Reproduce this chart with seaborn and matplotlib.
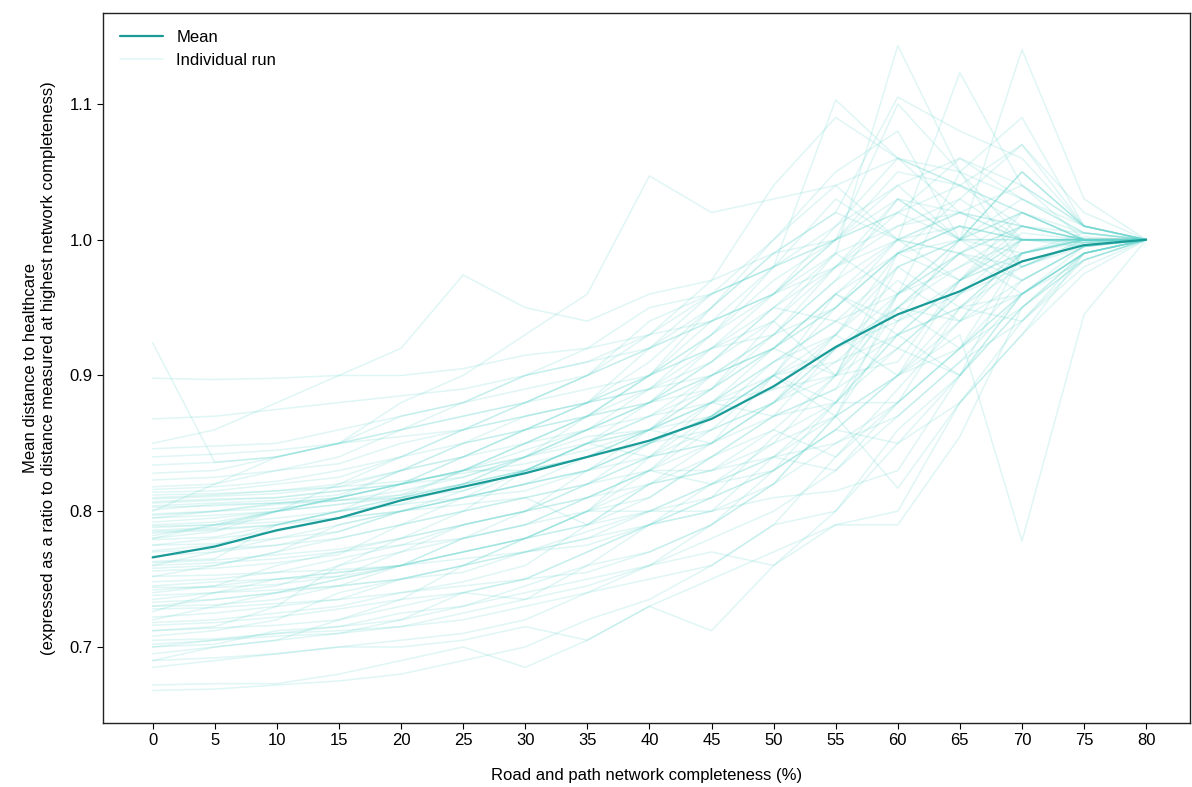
import numpy as np
import pandas as pd
import seaborn as sns
import matplotlib.pyplot as plt
from matplotlib.lines import Line2D

completeness = [0, 5, 10, 15, 20, 25, 30, 35, 40, 45, 50, 55, 60, 65, 70, 75, 80]

mean_ratio = [0.766, 0.774, 0.786, 0.795, 0.808, 0.818, 0.828, 0.840, 0.852,
              0.868, 0.892, 0.921, 0.945, 0.962, 0.984, 0.996, 1.000]

# individual runs (one list per run)
run_01 = [0.668, 0.669, 0.672, 0.675, 0.680, 0.690, 0.700, 0.720, 0.735, 0.760, 0.790, 0.840, 0.880, 0.920, 0.960, 0.990, 1.0]
run_02 = [0.672, 0.673, 0.673, 0.680, 0.690, 0.700, 0.685, 0.705, 0.730, 0.712, 0.760, 0.800, 0.860, 0.900, 0.950, 0.985, 1.0]
run_03 = [0.685, 0.690, 0.695, 0.700, 0.700, 0.705, 0.715, 0.705, 0.730, 0.750, 0.770, 0.790, 0.800, 0.880, 0.940, 0.980, 1.0]
run_04 = [0.690, 0.700, 0.705, 0.720, 0.730, 0.740, 0.735, 0.760, 0.790, 0.800, 0.840, 0.830, 0.880, 0.920, 0.960, 0.990, 1.0]
run_05 = [0.700, 0.702, 0.712, 0.715, 0.725, 0.730, 0.745, 0.760, 0.770, 0.790, 0.820, 0.870, 0.900, 0.950, 0.980, 0.995, 1.0]
run_06 = [0.702, 0.705, 0.708, 0.710, 0.720, 0.740, 0.750, 0.770, 0.790, 0.810, 0.855, 0.880, 0.920, 0.960, 0.980, 0.998, 1.0]
run_07 = [0.708, 0.712, 0.720, 0.740, 0.750, 0.755, 0.770, 0.780, 0.800, 0.820, 0.830, 0.860, 0.900, 0.940, 0.960, 0.990, 1.0]
run_08 = [0.712, 0.714, 0.716, 0.720, 0.735, 0.760, 0.780, 0.790, 0.810, 0.840, 0.870, 0.880, 0.930, 0.950, 0.990, 1.000, 1.0]
run_09 = [0.718, 0.720, 0.725, 0.730, 0.740, 0.748, 0.760, 0.790, 0.820, 0.830, 0.850, 0.900, 0.910, 0.970, 0.990, 1.005, 1.0]
run_10 = [0.722, 0.725, 0.730, 0.735, 0.750, 0.760, 0.770, 0.775, 0.790, 0.820, 0.840, 0.870, 0.940, 0.960, 1.000, 0.995, 1.0]
run_11 = [0.726, 0.740, 0.750, 0.752, 0.760, 0.780, 0.790, 0.800, 0.830, 0.870, 0.900, 0.920, 0.950, 0.980, 1.010, 1.000, 1.0]
run_12 = [0.730, 0.731, 0.735, 0.745, 0.760, 0.770, 0.780, 0.800, 0.840, 0.850, 0.870, 0.890, 0.960, 0.990, 0.970, 0.995, 1.0]
run_13 = [0.735, 0.740, 0.742, 0.745, 0.750, 0.760, 0.770, 0.785, 0.800, 0.810, 0.830, 0.860, 0.900, 0.920, 0.950, 0.990, 1.0]
run_14 = [0.740, 0.745, 0.760, 0.770, 0.780, 0.790, 0.800, 0.810, 0.830, 0.860, 0.880, 0.910, 0.950, 0.940, 0.990, 1.000, 1.0]
run_15 = [0.744, 0.744, 0.746, 0.752, 0.770, 0.780, 0.800, 0.830, 0.850, 0.870, 0.900, 0.930, 0.980, 1.000, 1.020, 1.000, 1.0]
run_16 = [0.748, 0.750, 0.755, 0.765, 0.775, 0.790, 0.800, 0.820, 0.840, 0.880, 0.870, 0.920, 0.960, 0.990, 0.980, 0.998, 1.0]
run_17 = [0.752, 0.760, 0.770, 0.790, 0.800, 0.810, 0.820, 0.830, 0.840, 0.850, 0.880, 0.920, 0.940, 0.970, 0.990, 1.002, 1.0]
run_18 = [0.756, 0.758, 0.762, 0.768, 0.790, 0.800, 0.810, 0.820, 0.850, 0.860, 0.900, 0.950, 0.990, 1.010, 1.000, 1.000, 1.0]
run_19 = [0.760, 0.770, 0.780, 0.785, 0.800, 0.810, 0.815, 0.830, 0.860, 0.880, 0.910, 0.940, 0.960, 0.980, 1.000, 0.998, 1.0]
run_20 = [0.763, 0.765, 0.790, 0.800, 0.805, 0.820, 0.830, 0.840, 0.850, 0.870, 0.900, 0.910, 0.930, 0.970, 1.000, 1.000, 1.0]
run_21 = [0.767, 0.770, 0.775, 0.780, 0.790, 0.800, 0.830, 0.850, 0.870, 0.880, 0.900, 0.880, 0.950, 0.990, 1.010, 1.000, 1.0]
run_22 = [0.771, 0.775, 0.790, 0.800, 0.810, 0.820, 0.840, 0.855, 0.860, 0.890, 0.930, 0.950, 0.990, 0.970, 1.005, 1.000, 1.0]
run_23 = [0.775, 0.780, 0.785, 0.795, 0.810, 0.830, 0.850, 0.860, 0.880, 0.900, 0.920, 0.960, 0.990, 1.010, 1.000, 1.000, 1.0]
run_24 = [0.779, 0.781, 0.790, 0.800, 0.820, 0.830, 0.840, 0.850, 0.860, 0.870, 0.910, 0.940, 0.920, 0.960, 0.990, 0.998, 1.0]
run_25 = [0.782, 0.790, 0.800, 0.805, 0.810, 0.820, 0.830, 0.840, 0.860, 0.900, 0.920, 0.960, 1.000, 1.020, 1.010, 1.000, 1.0]
run_26 = [0.786, 0.788, 0.800, 0.810, 0.830, 0.850, 0.860, 0.870, 0.890, 0.910, 0.950, 0.940, 0.980, 1.000, 0.990, 1.000, 1.0]
run_27 = [0.789, 0.790, 0.795, 0.800, 0.810, 0.820, 0.840, 0.860, 0.880, 0.900, 0.930, 0.970, 1.000, 0.990, 1.010, 1.000, 1.0]
run_28 = [0.792, 0.795, 0.800, 0.805, 0.812, 0.830, 0.850, 0.870, 0.900, 0.920, 0.950, 0.980, 1.030, 1.000, 1.000, 1.000, 1.0]
run_29 = [0.795, 0.800, 0.806, 0.810, 0.820, 0.840, 0.860, 0.880, 0.900, 0.930, 0.960, 1.010, 1.060, 1.040, 1.020, 1.000, 1.0]
run_30 = [0.798, 0.800, 0.802, 0.808, 0.815, 0.825, 0.840, 0.860, 0.880, 0.910, 0.940, 0.980, 1.020, 1.060, 1.040, 1.010, 1.0]
run_31 = [0.801, 0.805, 0.806, 0.810, 0.820, 0.840, 0.860, 0.880, 0.890, 0.930, 0.970, 1.000, 1.100, 1.050, 1.090, 1.010, 1.0]
run_32 = [0.804, 0.806, 0.808, 0.812, 0.830, 0.840, 0.850, 0.870, 0.900, 0.950, 1.000, 1.040, 1.000, 1.020, 1.000, 1.000, 1.0]
run_33 = [0.807, 0.809, 0.810, 0.815, 0.820, 0.830, 0.840, 0.860, 0.890, 0.920, 0.940, 0.990, 1.143, 1.050, 0.980, 1.000, 1.0]
run_34 = [0.810, 0.812, 0.815, 0.820, 0.830, 0.840, 0.860, 0.880, 0.900, 0.940, 0.980, 1.030, 1.000, 1.123, 1.040, 1.010, 1.0]
run_35 = [0.814, 0.815, 0.820, 0.825, 0.840, 0.850, 0.870, 0.880, 0.920, 0.960, 1.000, 1.050, 1.080, 1.000, 1.140, 1.030, 1.0]
run_36 = [0.818, 0.820, 0.830, 0.840, 0.860, 0.870, 0.880, 0.900, 0.930, 0.970, 1.040, 1.090, 1.060, 1.040, 1.020, 1.000, 1.0]
run_37 = [0.823, 0.825, 0.830, 0.835, 0.850, 0.860, 0.880, 0.900, 0.920, 0.950, 0.990, 1.020, 1.105, 1.080, 1.060, 1.010, 1.0]
run_38 = [0.828, 0.830, 0.840, 0.850, 0.860, 0.880, 0.900, 0.920, 0.930, 0.940, 0.960, 1.000, 1.050, 1.040, 1.070, 1.010, 1.0]
run_39 = [0.834, 0.836, 0.840, 0.850, 0.860, 0.870, 0.880, 0.900, 0.940, 0.960, 0.980, 1.010, 1.040, 1.060, 1.030, 1.005, 1.0]
run_40 = [0.840, 0.842, 0.845, 0.850, 0.855, 0.860, 0.870, 0.880, 0.910, 0.950, 0.990, 1.020, 1.000, 0.990, 1.020, 1.005, 1.0]
run_41 = [0.846, 0.848, 0.850, 0.860, 0.870, 0.880, 0.900, 0.910, 0.930, 0.960, 0.980, 1.000, 1.020, 1.040, 1.010, 1.005, 1.0]
run_42 = [0.868, 0.870, 0.875, 0.880, 0.885, 0.890, 0.900, 0.910, 0.920, 0.940, 0.960, 0.990, 1.010, 1.020, 1.000, 1.000, 1.0]
run_43 = [0.898, 0.897, 0.898, 0.900, 0.900, 0.905, 0.915, 0.920, 0.950, 0.960, 0.980, 1.000, 1.020, 1.000, 1.000, 1.000, 1.0]
run_44 = [0.924, 0.836, 0.840, 0.850, 0.870, 0.880, 0.890, 0.900, 0.920, 0.940, 0.960, 0.980, 1.000, 1.010, 1.000, 1.000, 1.0]
run_45 = [0.720, 0.730, 0.740, 0.750, 0.760, 0.770, 0.780, 0.790, 0.800, 0.820, 0.850, 0.870, 0.900, 0.930, 0.778, 0.945, 1.0]
run_46 = [0.745, 0.748, 0.750, 0.755, 0.760, 0.770, 0.780, 0.800, 0.800, 0.800, 0.820, 0.870, 0.817, 0.880, 0.930, 0.990, 1.0]
run_47 = [0.700, 0.705, 0.710, 0.715, 0.720, 0.730, 0.740, 0.750, 0.760, 0.770, 0.760, 0.790, 0.790, 0.855, 0.950, 0.990, 1.0]
run_48 = [0.850, 0.860, 0.880, 0.900, 0.920, 0.974, 0.950, 0.940, 0.960, 0.970, 0.990, 1.000, 1.030, 1.020, 1.010, 1.000, 1.0]
run_49 = [0.800, 0.820, 0.840, 0.850, 0.880, 0.900, 0.930, 0.960, 1.047, 1.020, 1.030, 1.040, 1.060, 1.050, 1.030, 1.010, 1.0]
run_50 = [0.780, 0.790, 0.800, 0.810, 0.820, 0.830, 0.850, 0.870, 0.900, 0.930, 0.980, 1.103, 1.060, 1.020, 1.040, 1.000, 1.0]
run_51 = [0.730, 0.735, 0.740, 0.750, 0.760, 0.765, 0.770, 0.780, 0.790, 0.800, 0.810, 0.815, 0.830, 0.900, 0.960, 0.990, 1.0]
run_52 = [0.760, 0.762, 0.765, 0.770, 0.775, 0.780, 0.790, 0.810, 0.830, 0.830, 0.840, 0.850, 0.870, 0.910, 0.960, 0.985, 1.0]
run_53 = [0.690, 0.692, 0.695, 0.700, 0.705, 0.710, 0.720, 0.740, 0.760, 0.780, 0.800, 0.830, 0.870, 0.910, 0.940, 0.985, 1.0]
run_54 = [0.705, 0.706, 0.710, 0.712, 0.715, 0.720, 0.730, 0.740, 0.750, 0.760, 0.790, 0.800, 0.850, 0.880, 0.930, 0.975, 1.0]
run_55 = [0.795, 0.797, 0.800, 0.810, 0.820, 0.830, 0.845, 0.860, 0.870, 0.890, 0.920, 0.950, 0.990, 1.030, 1.070, 1.020, 1.0]
run_56 = [0.775, 0.776, 0.780, 0.790, 0.800, 0.815, 0.830, 0.850, 0.880, 0.920, 0.960, 1.000, 1.040, 1.000, 1.050, 1.010, 1.0]
run_57 = [0.712, 0.715, 0.730, 0.760, 0.770, 0.790, 0.800, 0.820, 0.830, 0.850, 0.880, 0.900, 0.950, 0.920, 0.970, 0.995, 1.0]
run_58 = [0.728, 0.729, 0.732, 0.735, 0.740, 0.745, 0.750, 0.755, 0.770, 0.790, 0.830, 0.880, 0.930, 0.900, 0.990, 1.000, 1.0]
run_59 = [0.738, 0.740, 0.745, 0.760, 0.780, 0.800, 0.810, 0.790, 0.820, 0.850, 0.900, 0.870, 0.960, 1.000, 0.970, 0.995, 1.0]
run_60 = [0.758, 0.760, 0.770, 0.780, 0.790, 0.810, 0.820, 0.840, 0.860, 0.850, 0.880, 0.930, 0.900, 0.970, 1.020, 1.000, 1.0]
run_61 = [0.770, 0.772, 0.775, 0.785, 0.800, 0.810, 0.820, 0.830, 0.850, 0.870, 0.890, 0.900, 0.980, 0.950, 0.990, 1.000, 1.0]
run_62 = [0.784, 0.786, 0.790, 0.800, 0.805, 0.810, 0.830, 0.850, 0.840, 0.870, 0.900, 0.960, 0.940, 1.000, 1.030, 1.005, 1.0]
run_63 = [0.790, 0.792, 0.800, 0.810, 0.820, 0.830, 0.830, 0.850, 0.860, 0.880, 0.890, 0.930, 0.970, 0.940, 1.000, 1.000, 1.0]
run_64 = [0.797, 0.800, 0.805, 0.808, 0.810, 0.815, 0.830, 0.840, 0.860, 0.890, 0.940, 0.900, 0.990, 1.010, 0.980, 1.000, 1.0]
run_65 = [0.803, 0.804, 0.806, 0.808, 0.812, 0.820, 0.830, 0.850, 0.870, 0.900, 0.920, 0.900, 0.960, 1.000, 1.020, 1.000, 1.0]
run_66 = [0.806, 0.808, 0.810, 0.815, 0.820, 0.825, 0.840, 0.870, 0.880, 0.890, 0.920, 0.950, 1.000, 0.970, 1.010, 1.000, 1.0]
run_67 = [0.812, 0.813, 0.815, 0.818, 0.830, 0.850, 0.860, 0.870, 0.880, 0.910, 0.950, 0.990, 0.960, 1.050, 1.000, 1.000, 1.0]
run_68 = [0.752, 0.753, 0.755, 0.757, 0.760, 0.770, 0.780, 0.800, 0.820, 0.830, 0.860, 0.900, 0.930, 0.950, 0.940, 0.990, 1.0]
run_69 = [0.742, 0.745, 0.750, 0.755, 0.760, 0.780, 0.790, 0.810, 0.830, 0.820, 0.840, 0.880, 0.880, 0.920, 0.990, 1.000, 1.0]
run_70 = [0.695, 0.700, 0.705, 0.710, 0.715, 0.725, 0.735, 0.745, 0.760, 0.790, 0.820, 0.850, 0.880, 0.950, 0.960, 0.990, 1.0]
run_71 = [0.716, 0.718, 0.722, 0.728, 0.735, 0.740, 0.750, 0.770, 0.790, 0.810, 0.830, 0.860, 0.850, 0.900, 0.950, 0.985, 1.0]
run_72 = [0.733, 0.735, 0.740, 0.745, 0.750, 0.760, 0.780, 0.800, 0.810, 0.840, 0.860, 0.840, 0.890, 0.940, 0.970, 0.995, 1.0]
run_73 = [0.780, 0.785, 0.800, 0.820, 0.840, 0.860, 0.870, 0.880, 0.890, 0.900, 0.930, 0.980, 1.010, 1.030, 1.000, 1.000, 1.0]
run_74 = [0.788, 0.790, 0.792, 0.795, 0.800, 0.805, 0.810, 0.820, 0.840, 0.860, 0.880, 0.920, 0.950, 0.990, 0.960, 0.995, 1.0]
run_75 = [0.809, 0.811, 0.813, 0.818, 0.822, 0.828, 0.835, 0.845, 0.860, 0.880, 0.910, 0.930, 0.990, 1.000, 1.050, 1.010, 1.0]
run_76 = [0.762, 0.764, 0.768, 0.772, 0.780, 0.790, 0.800, 0.810, 0.820, 0.840, 0.870, 0.890, 0.920, 0.900, 0.960, 0.990, 1.0]
run_77 = [0.816, 0.818, 0.822, 0.830, 0.840, 0.860, 0.880, 0.890, 0.900, 0.920, 0.930, 0.970, 1.030, 1.000, 1.050, 1.010, 1.0]
run_78 = [0.785, 0.787, 0.790, 0.795, 0.800, 0.810, 0.820, 0.830, 0.850, 0.880, 0.920, 0.960, 0.930, 0.970, 1.000, 0.998, 1.0]

runs = [run_01, run_02, run_03, run_04, run_05, run_06, run_07, run_08,
        run_09, run_10, run_11, run_12, run_13, run_14, run_15, run_16,
        run_17, run_18, run_19, run_20, run_21, run_22, run_23, run_24,
        run_25, run_26, run_27, run_28, run_29, run_30, run_31, run_32,
        run_33, run_34, run_35, run_36, run_37, run_38, run_39, run_40,
        run_41, run_42, run_43, run_44, run_45, run_46, run_47, run_48,
        run_49, run_50, run_51, run_52, run_53, run_54, run_55, run_56,
        run_57, run_58, run_59, run_60, run_61, run_62, run_63, run_64,
        run_65, run_66, run_67, run_68, run_69, run_70, run_71, run_72,
        run_73, run_74, run_75, run_76, run_77, run_78]

rows = []
for i, r in enumerate(runs):
    for x, y in zip(completeness, r):
        rows.append([i, x, y])
df = pd.DataFrame(rows, columns=["run", "completeness", "ratio"])
df_mean = pd.DataFrame({"completeness": completeness, "ratio": mean_ratio})

sns.set_theme(style="ticks")
plt.rcParams["font.family"] = ["Liberation Sans", "DejaVu Sans"]
plt.rcParams["text.color"] = "black"
plt.rcParams["axes.labelcolor"] = "black"
plt.rcParams["xtick.color"] = "black"
plt.rcParams["ytick.color"] = "black"

run_color = "#5fd3cc"
mean_color = "#1a9b97"

fig = plt.figure(figsize=(11.92, 7.87), dpi=100)
ax = fig.add_axes([0.0864, 0.0813, 0.9116, 0.9022])

sns.lineplot(data=df, x="completeness", y="ratio", units="run", estimator=None,
             color=run_color, alpha=0.2, lw=1.1, ax=ax, legend=False)
sns.lineplot(data=df_mean, x="completeness", y="ratio", color=mean_color,
             lw=1.6, ax=ax, legend=False)

ax.set_xlim(-4, 83.5)
ax.set_ylim(0.644, 1.167)
ax.set_xticks(completeness)
ax.set_yticks([0.7, 0.8, 0.9, 1.0, 1.1])
ax.tick_params(labelsize=12, length=4, width=0.8)
for s in ax.spines.values():
    s.set_color("#222222")
    s.set_linewidth(1.0)

ax.set_xlabel("Road and path network completeness (%)", fontsize=12, labelpad=14)
ax.set_ylabel("Mean distance to healthcare\n(expressed as a ratio to distance measured at highest network completeness)",
              fontsize=12, labelpad=10)

handles = [Line2D([0], [0], color=mean_color, lw=1.6),
           Line2D([0], [0], color=run_color, lw=1.1, alpha=0.2)]
ax.legend(handles, ["Mean", "Individual run"], loc="upper left", frameon=False,
          fontsize=12, handlelength=2.6, borderaxespad=0.6)

fig.savefig("out.png", dpi=100)
